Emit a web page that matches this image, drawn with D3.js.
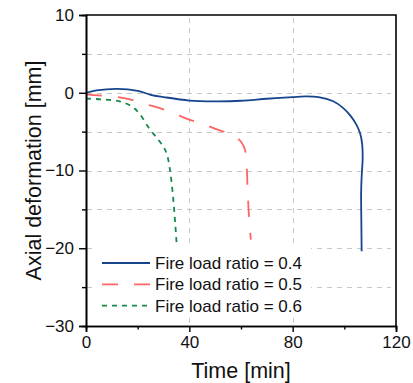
<!DOCTYPE html>
<html>
<head>
<meta charset="utf-8">
<script src="https://cdn.jsdelivr.net/npm/d3@7"></script>
<style>
body { margin: 0; background: #fff; }
svg { font-family: Arial, "Liberation Sans", sans-serif; }
</style>
</head>
<body>
<div id="chart"></div>
<script>
// data: [time (min), axial deformation (mm)]
var ratio04 = [
	[0, 0], [4, 0.3], [12, 0.5], [20, 0.25], [25, -0.26], [30, -0.55],
	[40, -1.0], [50, -1.1], [60, -1.03], [70, -0.77], [80, -0.55], [85, -0.47],
	[90, -0.56], [95.7, -1.1], [99.6, -1.97], [102.5, -3.0], [104.5, -4.0],
	[106.1, -5.2], [106.9, -6.6], [107.1, -8.4], [106.7, -10.8], [106.5, -12.9],
	[106.6, -17], [106.7, -20.4]
];
var ratio05 = [
	[0, -0.2], [5, -0.35], [11.2, -0.5], [17, -0.85], [23.5, -1.5], [28.6, -1.97],
	[35, -2.8], [40, -3.45], [46, -4.1], [51, -4.75], [55, -5.2], [57.5, -5.6],
	[60, -6.3], [61.5, -7.3], [62.2, -9.5], [62.6, -12.9], [63.3, -17],
	[63.8, -18.9]
];
var ratio06 = [
	[0, -0.75], [6, -0.85], [13, -1.1], [17.7, -1.76], [20.5, -2.6], [24.5, -4.6],
	[27.4, -5.8], [29.9, -6.9], [31.3, -7.9], [32.5, -9.9], [33.8, -13.75],
	[35.1, -19.5]
];
var seriesNames = ["Fire load ratio = 0.4", "Fire load ratio = 0.5", "Fire load ratio = 0.6"];
var xTicks = [0, 40, 80, 120];
var xMinor = [20, 60, 100];
var yTicks = [10, 0, -10, -20, -30];
var yMinor = [5, -5, -15, -25];
var yGrid = [5, 0, -5, -10, -15, -20, -25];
var xGrid = [40, 80];

var w = 413, h = 383;
var pLeft = 86, pRight = 396, pTop = 15, pBottom = 326;

var svg = d3.select("#chart").append("svg")
	.attr("width", w)
	.attr("height", h);

var x = d3.scaleLinear().domain([0, 120]).range([pLeft, pRight]);
var y = d3.scaleLinear().domain([-30, 10]).range([pBottom, pTop]);

// grid
var grid = svg.append("g").attr("stroke", "#c8c8c8").attr("stroke-dasharray", "5,5");
grid.selectAll(".gy").data(yGrid).enter().append("line")
	.attr("x1", pLeft + 1).attr("x2", pRight - 5)
	.attr("y1", function(d) { return Math.round(y(d)) + 0.5; })
	.attr("y2", function(d) { return Math.round(y(d)) + 0.5; });
grid.selectAll(".gx").data(xGrid).enter().append("line")
	.attr("y1", pTop + 3).attr("y2", pBottom - 1)
	.attr("x1", function(d) { return Math.round(x(d)) + 0.5; })
	.attr("x2", function(d) { return Math.round(x(d)) + 0.5; });

// curves
var line = d3.line()
	.x(function(d) { return x(d[0]); })
	.y(function(d) { return y(d[1]); })
	.curve(d3.curveCatmullRom.alpha(0.5));

var styles = [
	{ data: ratio04, color: "#16458e", dash: null },
	{ data: ratio05, color: "#ff6464", dash: "16,16" },
	{ data: ratio06, color: "#16894a", dash: "5,5" }
];

styles.forEach(function(s) {
	svg.append("path")
		.attr("d", line(s.data))
		.attr("fill", "none")
		.attr("stroke", s.color)
		.attr("stroke-width", 1.8)
		.attr("stroke-dasharray", s.dash);
});

// legend
var legend = svg.append("g");
legend.append("rect")
	.attr("x", 97).attr("y", 247)
	.attr("width", 214).attr("height", 68)
	.attr("fill", "#fff");

styles.forEach(function(s, i) {
	var ly = 263 + i * 21.3;
	legend.append("line")
		.attr("x1", 102).attr("x2", 150)
		.attr("y1", ly).attr("y2", ly)
		.attr("stroke", s.color)
		.attr("stroke-width", 1.8)
		.attr("stroke-dasharray", s.dash);
	legend.append("text")
		.attr("x", 155).attr("y", ly + 6)
		.attr("font-size", 17)
		.attr("fill", "#111")
		.text(seriesNames[i]);
});

// axes
svg.append("g").attr("transform", "translate(0," + pBottom + ")")
	.call(d3.axisBottom(x).tickValues(xTicks).tickSize(6).tickPadding(4).tickFormat(d3.format("d")));
svg.append("g").attr("transform", "translate(0," + pBottom + ")")
	.call(d3.axisBottom(x).tickValues(xMinor).tickSize(3.5).tickFormat(""));
svg.append("g").attr("transform", "translate(" + pLeft + ",0)")
	.call(d3.axisLeft(y).tickValues(yTicks).tickSize(7).tickPadding(5).tickFormat(d3.format("d")));
svg.append("g").attr("transform", "translate(" + pLeft + ",0)")
	.call(d3.axisLeft(y).tickValues(yMinor).tickSize(4).tickFormat(""));

svg.selectAll(".domain").attr("stroke", "#000").attr("stroke-width", 1.6);
svg.selectAll(".tick line").attr("stroke", "#000").attr("stroke-width", 1.4);
svg.selectAll(".tick text")
	.attr("font-size", 17)
	.attr("font-family", "Arial, 'Liberation Sans', sans-serif")
	.attr("fill", "#111");

// top and right frame
svg.append("path")
	.attr("d", "M" + pLeft + "," + pTop + "H" + pRight + "V" + pBottom)
	.attr("fill", "none")
	.attr("stroke", "#000")
	.attr("stroke-width", 1.6);

// titles
svg.append("text")
	.attr("x", (pLeft + pRight) / 2).attr("y", 378)
	.attr("text-anchor", "middle")
	.attr("font-size", 21.5)
	.attr("fill", "#111")
	.text("Time [min]");

svg.append("text")
	.attr("transform", "translate(41," + ((pTop + pBottom) / 2) + ") rotate(-90)")
	.attr("text-anchor", "middle")
	.attr("font-size", 21.5)
	.attr("fill", "#111")
	.text("Axial deformation [mm]");
</script>
</body>
</html>
